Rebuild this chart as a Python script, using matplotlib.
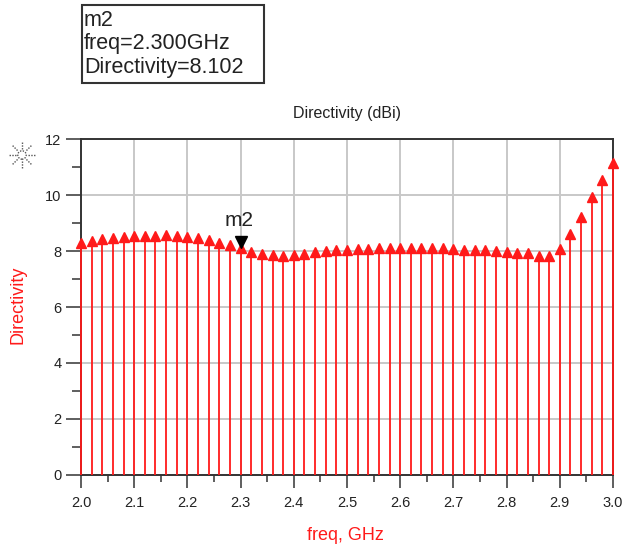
import numpy as np
import matplotlib
matplotlib.use("Agg")
import matplotlib.pyplot as plt
from matplotlib.patches import Rectangle
from matplotlib.ticker import MultipleLocator

plt.rcParams['font.family'] = ['Liberation Sans', 'DejaVu Sans']

# frequency sweep, GHz
freq = [2.00, 2.02, 2.04, 2.06, 2.08, 2.10, 2.12, 2.14, 2.16, 2.18,
        2.20, 2.22, 2.24, 2.26, 2.28, 2.30, 2.32, 2.34, 2.36, 2.38,
        2.40, 2.42, 2.44, 2.46, 2.48, 2.50, 2.52, 2.54, 2.56, 2.58,
        2.60, 2.62, 2.64, 2.66, 2.68, 2.70, 2.72, 2.74, 2.76, 2.78,
        2.80, 2.82, 2.84, 2.86, 2.88, 2.90, 2.92, 2.94, 2.96, 2.98,
        3.00]
# directivity, dBi
directivity = [8.30, 8.36, 8.43, 8.48, 8.51, 8.54, 8.55, 8.55, 8.58, 8.55,
               8.49, 8.45, 8.38, 8.28, 8.20, 8.102, 7.96, 7.88, 7.84, 7.81,
               7.85, 7.90, 7.96, 7.99, 8.02, 8.05, 8.08, 8.08, 8.09, 8.11,
               8.10, 8.10, 8.11, 8.09, 8.09, 8.08, 8.04, 8.03, 8.02, 8.00,
               7.97, 7.93, 7.92, 7.81, 7.81, 8.08, 8.61, 9.23, 9.92, 10.55,
               11.14]

marker_name = "m2"
marker_freq = 2.30
marker_val = directivity[freq.index(marker_freq)]

red = '#ff1a1a'
dark = '#333333'

fig = plt.figure(figsize=(6.23, 5.49), dpi=100)
ax = fig.add_axes([0.130, 0.1348, 0.854, 0.612])

ml, sl, bl = ax.stem(freq, directivity, basefmt=' ')
plt.setp(sl, color=red, linewidth=1.3, zorder=3, clip_on=False)
plt.setp(ml, color=red, marker='^', markersize=7, zorder=4, clip_on=False)

# marker m2
ax.plot([marker_freq], [marker_val + 0.23], marker='v', color='black',
        markersize=8, linestyle='none', zorder=5)
ax.text(marker_freq - 0.003, marker_val + 1.0, marker_name, fontsize=15,
        ha='center', va='center', color='#222222')

ax.set_xlim(2.0, 3.0)
ax.set_ylim(0, 12)
ax.xaxis.set_major_locator(MultipleLocator(0.1))
ax.xaxis.set_minor_locator(MultipleLocator(0.05))
ax.yaxis.set_major_locator(MultipleLocator(2))
ax.yaxis.set_minor_locator(MultipleLocator(1))
ax.xaxis.set_major_formatter(plt.FuncFormatter(lambda v, p: f"{v:.1f}"))

ax.grid(True, which='major', color='#c8c8c8', linewidth=1.4)
ax.set_axisbelow(True)
for s in ax.spines.values():
    s.set_color(dark)
    s.set_linewidth(1.4)
    s.set_zorder(2.5)

ax.tick_params(axis='y', which='major', length=11, width=1.1, color=dark,
               pad=3, labelsize=10.5, labelcolor='#222222')
ax.tick_params(axis='y', which='minor', length=6.5, width=1.1, color=dark)
ax.tick_params(axis='x', which='major', length=9, width=1.1, color=dark,
               pad=6, labelsize=10.5, labelcolor='#222222')
ax.tick_params(axis='x', which='minor', length=5, width=1.1, color=dark)

fig.text(0.557, 0.794, "Directivity (dBi)", ha='center', va='center',
         fontsize=11.5, color='#222222')
fig.text(0.029, 0.444, "Directivity", rotation=90, ha='center', va='center',
         fontsize=13, color=red)
fig.text(0.554, 0.025, "freq, GHz", ha='center', va='center',
         fontsize=13, color=red)

# marker readout box
fig.patches.append(Rectangle((82 / 623, 1 - 83 / 549), 182 / 623, 78 / 549,
                             transform=fig.transFigure, fill=False,
                             edgecolor=dark, linewidth=1.5))
box_lines = [marker_name, f"freq={marker_freq:.3f}GHz",
             f"Directivity={marker_val:.3f}"]
for i, line in enumerate(box_lines):
    fig.text(84 / 623, 1 - (21 + 23 * i) / 549, line, ha='left', va='center',
             fontsize=15.5, color='#222222')

# small sun icon at the top of the y axis
icon = fig.add_axes([8 / 623, 1 - 170 / 549, 28 / 623, 30 / 549])
icon.set_xlim(-1, 1)
icon.set_ylim(-1, 1)
icon.set_aspect('equal')
icon.axis('off')
for a in np.arange(8) * np.pi / 4:
    icon.plot([0.45 * np.cos(a), 0.95 * np.cos(a)],
              [0.45 * np.sin(a), 0.95 * np.sin(a)],
              color='#555555', linewidth=1.0, linestyle=(0, (1, 1)))
icon.add_patch(plt.Circle((0, 0), 0.3, fill=False, edgecolor='#555555',
                          linewidth=1.0, linestyle=(0, (1, 1))))

fig.savefig("out.png", dpi=100)
